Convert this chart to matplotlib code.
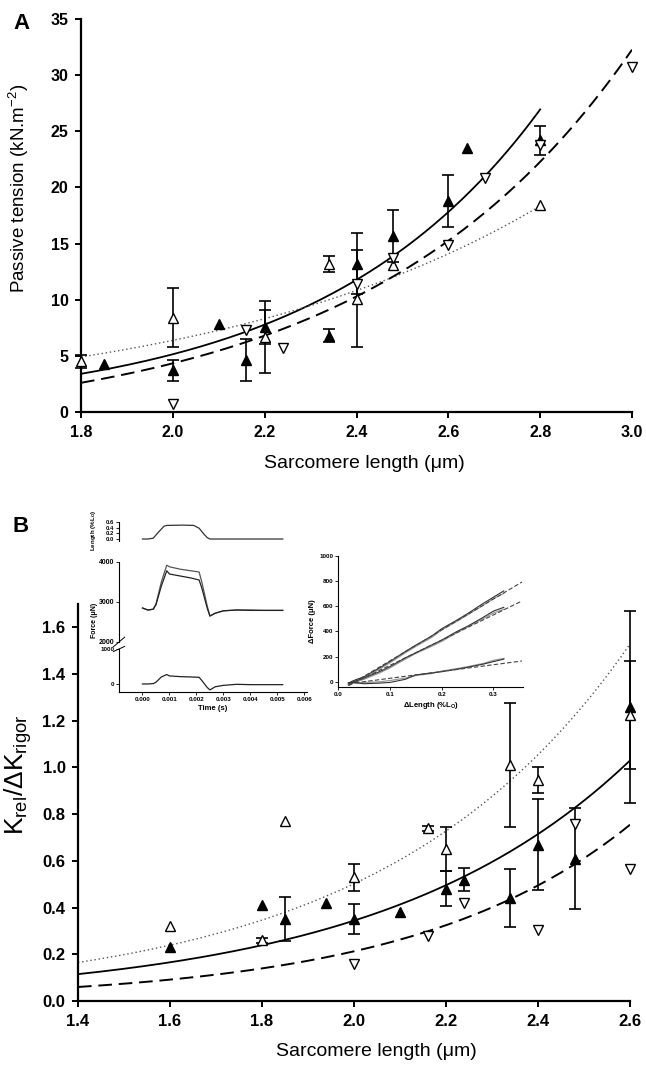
import matplotlib
matplotlib.use('Agg')
import matplotlib.pyplot as plt
import numpy as np

plt.rcParams['font.family'] = ['Liberation Sans', 'DejaVu Sans']
plt.rcParams['mathtext.default'] = 'regular'

# ---------------- Panel A : passive tension ----------------
a_fill_x = [1.85, 2.0, 2.1, 2.16, 2.2, 2.34, 2.4, 2.48, 2.6, 2.64, 2.8]
a_fill_y = [4.3, 3.7, 7.85, 4.65, 7.6, 6.8, 13.2, 15.65, 18.8, 23.5, 24.2]
a_fill_err = [0, 0.9, 0, 1.85, 1.5, 0.6, 2.7, 2.3, 2.3, 0, 1.3]

a_open_x = [1.8, 2.0, 2.2, 2.34, 2.4, 2.48, 2.8]
a_open_y = [4.5, 8.4, 6.7, 13.2, 10.1, 13.1, 18.4]
a_open_err = [0.6, 2.6, 3.2, 0.7, 4.3, 0, 0]

a_down_x = [2.0, 2.16, 2.24, 2.4, 2.48, 2.6, 2.68, 2.8, 3.0]
a_down_y = [0.75, 7.3, 5.7, 11.4, 13.7, 14.9, 20.8, 23.8, 30.7]

# exponential fits: offset, amplitude, rate, x-start, x-end
a_fit_solid = [0.0, 3.4, 2.07, 1.8, 2.8]
a_fit_dotted = [0.0, 4.9, 1.32, 1.8, 2.8]
a_fit_dashed = [-1.54, 4.14, 1.75, 1.8, 3.0]

# ---------------- Panel B : relative stiffness ----------------
b_fill_x = [1.6, 1.8, 1.85, 1.94, 2.0, 2.1, 2.2, 2.24, 2.34, 2.4, 2.48, 2.6]
b_fill_y = [0.23, 0.41, 0.35, 0.42, 0.35, 0.38, 0.48, 0.52, 0.44, 0.67, 0.61, 1.26]
b_fill_err = [0, 0, 0.095, 0, 0.065, 0, 0.075, 0.05, 0.125, 0.195, 0.215, 0.41]

b_open_x = [1.6, 1.8, 1.85, 2.0, 2.16, 2.2, 2.34, 2.4, 2.6]
b_open_y = [0.32, 0.26, 0.77, 0.53, 0.74, 0.65, 1.01, 0.945, 1.225]
b_open_err = [0, 0.01, 0, 0.057, 0.01, 0.095, 0.265, 0.055, 0.23]

b_down_x = [2.0, 2.16, 2.24, 2.4, 2.48, 2.6]
b_down_y = [0.16, 0.28, 0.42, 0.305, 0.76, 0.565]

b_fit_solid = [0.0, 0.115, 1.827, 1.4, 2.6]
b_fit_dotted = [0.0, 0.165, 1.855, 1.4, 2.6]
b_fit_dashed = [0.0, 0.06, 2.11, 1.4, 2.6]

# ---------------- inset 1 : length step and force traces ----------------
t_len = [0.0, 0.0002, 0.0004, 0.0006, 0.0008, 0.0009, 0.0015, 0.0019, 0.0021, 0.0023, 0.0024, 0.0025, 0.0052]
len_trace = [0.0, 0.0, 0.03, 0.25, 0.45, 0.48, 0.49, 0.48, 0.38, 0.15, 0.05, 0.0, 0.0]

t_force = [0.0, 0.0002, 0.0004, 0.0005, 0.0007, 0.0009, 0.0010, 0.0014, 0.0018, 0.0021, 0.0022,
           0.0024, 0.0025, 0.0027, 0.0030, 0.0035, 0.0040, 0.0045, 0.0052]
force_hi = [2850, 2800, 2820, 2950, 3500, 3920, 3880, 3820, 3780, 3750, 3500,
            2900, 2650, 2720, 2780, 2800, 2800, 2790, 2790]
force_lo = [2850, 2800, 2820, 2930, 3400, 3780, 3700, 3650, 3600, 3550, 3350,
            2850, 2650, 2720, 2780, 2800, 2790, 2790, 2790]
force_diff = [0, 0, 10, 50, 200, 270, 230, 210, 200, 190, 100,
              -100, -170, -80, -40, -10, -20, -20, -20]

# ---------------- inset 2 : force-length relation ----------------
dl = [0.02, 0.03, 0.05, 0.08, 0.10, 0.13, 0.15, 0.18, 0.20, 0.23, 0.25, 0.28, 0.30, 0.32]
df_top = [-10, 10, 40, 110, 160, 240, 290, 360, 420, 490, 540, 620, 670, 720]
df_top_b = [-20, 0, 30, 100, 150, 230, 280, 350, 410, 480, 530, 605, 660, 700]
df_mid = [-10, 0, 30, 80, 120, 190, 230, 290, 330, 400, 440, 510, 560, 590]
df_mid_b = [-20, -5, 20, 70, 110, 180, 225, 280, 320, 390, 435, 500, 545, 575]
df_low = [-10, -5, -15, -10, -5, 20, 55, 70, 80, 100, 115, 140, 160, 180]
df_low_b = [-20, -10, -5, 0, 10, 30, 50, 65, 85, 105, 120, 145, 170, 185]
dl_fit = [0.02, 0.355]
df_fit_top = [-30, 790]
df_fit_mid = [-30, 640]
df_fit_low = [-15, 165]

W, H = 646, 1068
fig = plt.figure(figsize=(W / 100, H / 100), dpi=100)


def box(x0, y0, x1, y1):
    # pixel box (left, top, right, bottom) -> figure rect
    return [x0 / W, 1 - y1 / H, (x1 - x0) / W, (y1 - y0) / H]


def fit_curve(ax, p, **kw):
    xs = np.linspace(p[3], p[4], 200)
    ax.plot(xs, p[0] + p[1] * np.exp(p[2] * (xs - p[3])), **kw)


def err_bars(ax, x, y, e):
    keep = [i for i in range(len(e)) if e[i] > 0]
    eb = ax.errorbar([x[i] for i in keep], [y[i] for i in keep], yerr=[e[i] for i in keep],
                     fmt='none', ecolor='black', elinewidth=1.2, capsize=4.5, capthick=1.2, zorder=2)
    for art in eb.lines[1] + eb.lines[2]:
        art.set_clip_on(False)


def style_main(ax, size):
    for s in ['top', 'right']:
        ax.spines[s].set_visible(False)
    for s in ['left', 'bottom']:
        ax.spines[s].set_linewidth(1.6)
    ax.tick_params(direction='out', length=4, width=1.4, labelsize=size, pad=5)
    plt.setp(ax.get_xticklabels() + ax.get_yticklabels(), fontweight='bold')


def draw_panel(ax, fits, fill, opn, down, ms):
    fit_curve(ax, fits[0], color='black', lw=1.3, zorder=1)
    fit_curve(ax, fits[1], color='#555555', lw=1.0, ls=(0, (1, 2)), zorder=1)
    fit_curve(ax, fits[2], color='black', lw=1.4, ls=(0, (7, 3.5)), zorder=1)
    err_bars(ax, *fill)
    err_bars(ax, *opn)
    ax.plot(fill[0], fill[1], '^', color='black', ms=ms, ls='none', zorder=3, clip_on=False)
    ax.plot(opn[0], opn[1], '^', mfc='white', mec='black', mew=1.0, ms=ms, ls='none',
            zorder=3, clip_on=False)
    ax.plot(down[0], down[1], 'v', mfc='white', mec='black', mew=1.0, ms=ms, ls='none',
            zorder=3, clip_on=False)


# ---- panel A ----
axA = fig.add_axes(box(81, 19, 632, 412))
draw_panel(axA, [a_fit_solid, a_fit_dotted, a_fit_dashed],
           (a_fill_x, a_fill_y, a_fill_err), (a_open_x, a_open_y, a_open_err),
           (a_down_x, a_down_y), 7)
axA.set_xlim(1.8, 3.0)
axA.set_ylim(0, 35)
axA.set_xticks(np.arange(1.8, 3.01, 0.2), ['%.1f' % v for v in np.arange(1.8, 3.01, 0.2)])
axA.set_yticks(range(0, 36, 5))
style_main(axA, 11.5)
axA.set_xlabel('Sarcomere length (\u03bcm)', fontsize=14)
axA.set_ylabel('Passive tension (kN.m$^{-2}$)', fontsize=13.5)
axA.xaxis.set_label_coords(0.515, -0.11)
axA.yaxis.set_label_coords(-0.09, 0.57)

# ---- panel B ----
axB = fig.add_axes(box(78, 604, 630, 1001))
draw_panel(axB, [b_fit_solid, b_fit_dotted, b_fit_dashed],
           (b_fill_x, b_fill_y, b_fill_err), (b_open_x, b_open_y, b_open_err),
           (b_down_x, b_down_y), 7.5)
axB.set_xlim(1.4, 2.6)
axB.set_ylim(0, 1.7)
axB.set_xticks(np.arange(1.4, 2.61, 0.2), ['%.1f' % v for v in np.arange(1.4, 2.61, 0.2)])
axB.set_yticks(np.arange(0, 1.61, 0.2), ['%.1f' % v for v in np.arange(0, 1.61, 0.2)])
style_main(axB, 12)
axB.set_xlabel('Sarcomere length (\u03bcm)', fontsize=14)
axB.set_ylabel('K$_{rel}$/\u0394K$_{rigor}$', fontsize=19)
axB.xaxis.set_label_coords(0.54, -0.105)
axB.yaxis.set_label_coords(-0.08, 0.57)

fig.text(13 / W, 1 - 29 / H, 'A', fontsize=16, fontweight='bold')
fig.text(12 / W, 1 - 532 / H, 'B', fontsize=16, fontweight='bold')


# ---- inset axes styling ----
def style_inset(ax, bottom=True, size=5):
    for s in ['top', 'right']:
        ax.spines[s].set_visible(False)
    ax.spines['left'].set_linewidth(0.8)
    ax.spines['bottom'].set_linewidth(0.8)
    ax.spines['bottom'].set_visible(bottom)
    ax.patch.set_alpha(0)
    ax.tick_params(direction='out', length=2, width=0.6, labelsize=size, pad=1.5)
    if not bottom:
        ax.tick_params(axis='x', bottom=False, labelbottom=False)
    plt.setp(ax.get_xticklabels() + ax.get_yticklabels(), fontweight='bold')


tlim = (-0.00087, 0.0061)
ax_len = fig.add_axes(box(119, 522, 307, 541))
ax_len.plot(t_len, len_trace, color='#333333', lw=0.9)
ax_len.set_xlim(*tlim)
ax_len.set_ylim(-0.07, 0.6)
ax_len.set_yticks([0.0, 0.2, 0.4, 0.6], ['0.0', '0.2', '0.4', '0.6'])
style_inset(ax_len, bottom=False, size=4.2)

ax_fhi = fig.add_axes(box(119, 562, 307, 642))
ax_fhi.plot(t_force, force_hi, color='#555555', lw=0.9)
ax_fhi.plot(t_force, force_lo, color='#222222', lw=0.9)
ax_fhi.set_xlim(*tlim)
ax_fhi.set_ylim(2000, 4000)
ax_fhi.set_yticks([2000, 3000, 4000])
style_inset(ax_fhi, bottom=False)

ax_flo = fig.add_axes(box(119, 649, 307, 692))
ax_flo.plot(t_force, force_diff, color='#222222', lw=0.9)
ax_flo.set_xlim(*tlim)
ax_flo.set_ylim(-230, 1000)
ax_flo.set_yticks([0, 1000])
ax_flo.set_xticks(np.arange(0, 0.0061, 0.001), ['%.3f' % v for v in np.arange(0, 0.0061, 0.001)])
style_inset(ax_flo, size=4.5)
ax_flo.set_xlabel('Time (s)', fontsize=5.5, fontweight='bold', labelpad=2)
# axis break marks
for a, yy in ((ax_flo, 1.0), (ax_fhi, 0.0)):
    a.plot([-0.03, 0.03], [yy - 0.06, yy + 0.06], transform=a.transAxes,
           color='black', lw=0.7, clip_on=False)

fig.text(94 / W, 1 - 530 / H, 'Length (%L$_O$)', rotation=90, fontsize=4.5,
         fontweight='bold', ha='center', va='center')
fig.text(95 / W, 1 - 620 / H, 'Force (\u03bcN)', rotation=90, fontsize=5,
         fontweight='bold', ha='center', va='center')

ax_fl = fig.add_axes(box(338, 555.5, 523, 687.4))
for tr in (df_top_b, df_mid_b, df_low_b):
    ax_fl.plot(dl, tr, color='#999999', lw=0.9)
for tr in (df_top, df_mid, df_low):
    ax_fl.plot(dl, tr, color='#333333', lw=0.8)
for ft in (df_fit_top, df_fit_mid, df_fit_low):
    ax_fl.plot(dl_fit, ft, color='#444444', lw=0.8, ls=(0, (4, 2)))
ax_fl.set_xlim(0, 0.357)
ax_fl.set_ylim(-44, 1000)
ax_fl.set_xticks([0.0, 0.1, 0.2, 0.3], ['0.0', '0.1', '0.2', '0.3'])
ax_fl.set_yticks(range(0, 1001, 200))
style_inset(ax_fl, size=4.5)
ax_fl.set_xlabel('\u0394Length (%L$_O$)', fontsize=5.5, fontweight='bold', labelpad=2)
ax_fl.set_ylabel('\u0394Force (\u03bcN)', fontsize=5.5, fontweight='bold', labelpad=2)

fig.savefig('out.png', dpi=100)
